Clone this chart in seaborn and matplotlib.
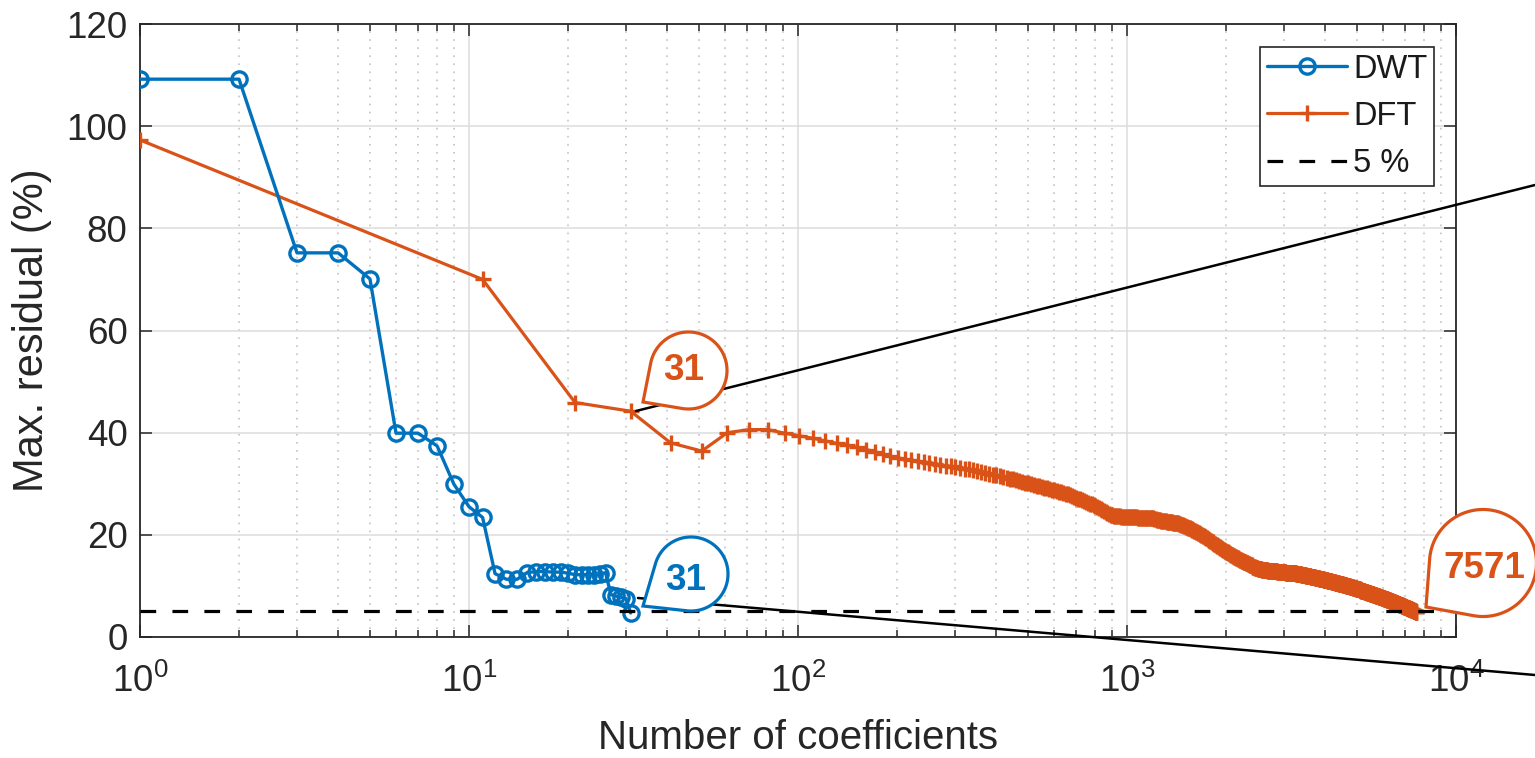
import numpy as np
import matplotlib
matplotlib.use("Agg")
import matplotlib.pyplot as plt
import seaborn as sns
from matplotlib.path import Path
from matplotlib.patches import PathPatch
from matplotlib.lines import Line2D
from matplotlib.ticker import LogLocator, NullFormatter, FixedLocator

# ---------------- data ----------------
dwt_n = list(range(1, 32))
dwt_residual = [109.2, 109.2, 75.2, 75.2, 70.1, 39.9, 39.9, 37.4, 29.9, 25.5,
                23.4, 12.4, 11.3, 11.3, 12.6, 12.8, 12.8, 12.7, 12.7, 12.5,
                12.2, 12.2, 12.2, 12.2, 12.3, 12.6, 8.3, 8.0, 7.8, 7.5, 4.7]

dft_n = np.arange(1, 7572, 10)   # 1, 11, 21, ..., 7571
dft_residual = [
    97.3, 70.0, 45.9, 44.2, 38.0, 36.4, 40.0, 40.6, 40.6, 39.9,
    39.4, 38.9, 38.4, 37.9, 37.6, 37.1, 36.7, 36.3, 35.8, 35.4,
    35.1, 34.8, 34.6, 34.4, 34.2, 34.0, 33.9, 33.7, 33.5, 33.4,
    33.3, 33.1, 32.9, 32.8, 32.6, 32.4, 32.3, 32.1, 32.0, 31.8,
    31.7, 31.5, 31.3, 31.2, 31.0, 30.9, 30.7, 30.5, 30.4, 30.2,
    30.1, 29.9, 29.8, 29.6, 29.5, 29.4, 29.2, 29.1, 28.9, 28.8,
    28.7, 28.5, 28.4, 28.3, 28.1, 28.0, 27.9, 27.7, 27.6, 27.4,
    27.3, 27.1, 27.0, 26.8, 26.6, 26.5, 26.3, 26.1, 26.0, 25.8,
    25.6, 25.4, 25.2, 25.0, 24.8, 24.6, 24.4, 24.2, 24.1, 23.9,
    23.8, 23.7, 23.7, 23.6, 23.6, 23.6, 23.5, 23.5, 23.5, 23.5,
    23.5, 23.5, 23.4, 23.4, 23.4, 23.4, 23.4, 23.4, 23.3, 23.3,
    23.3, 23.3, 23.3, 23.3, 23.3, 23.2, 23.2, 23.2, 23.2, 23.2,
    23.2, 23.1, 23.1, 23.0, 23.0, 22.9, 22.9, 22.8, 22.8, 22.7,
    22.7, 22.7, 22.6, 22.6, 22.6, 22.5, 22.5, 22.5, 22.4, 22.4,
    22.4, 22.4, 22.3, 22.3, 22.2, 22.1, 22.0, 22.0, 21.9, 21.8,
    21.7, 21.6, 21.5, 21.4, 21.4, 21.3, 21.2, 21.1, 21.0, 20.9,
    20.8, 20.7, 20.6, 20.5, 20.4, 20.3, 20.2, 20.1, 20.0, 19.9,
    19.8, 19.7, 19.6, 19.5, 19.4, 19.3, 19.1, 19.0, 18.9, 18.8,
    18.7, 18.6, 18.5, 18.4, 18.3, 18.2, 18.1, 18.0, 17.9, 17.8,
    17.7, 17.6, 17.5, 17.4, 17.3, 17.2, 17.1, 17.0, 16.9, 16.8,
    16.7, 16.6, 16.6, 16.5, 16.4, 16.3, 16.2, 16.1, 16.0, 16.0,
    15.9, 15.8, 15.7, 15.7, 15.6, 15.5, 15.4, 15.4, 15.3, 15.2,
    15.1, 15.0, 15.0, 14.9, 14.9, 14.8, 14.7, 14.7, 14.6, 14.6,
    14.5, 14.4, 14.4, 14.3, 14.2, 14.2, 14.1, 14.1, 14.0, 14.0,
    13.9, 13.8, 13.8, 13.7, 13.7, 13.6, 13.6, 13.5, 13.5, 13.5,
    13.4, 13.4, 13.4, 13.3, 13.3, 13.3, 13.3, 13.2, 13.2, 13.2,
    13.2, 13.2, 13.1, 13.1, 13.1, 13.1, 13.1, 13.1, 13.0, 13.0,
    13.0, 13.0, 13.0, 13.0, 13.0, 12.9, 12.9, 12.9, 12.9, 12.9,
    12.9, 12.9, 12.9, 12.9, 12.9, 12.9, 12.8, 12.8, 12.8, 12.8,
    12.8, 12.8, 12.8, 12.8, 12.8, 12.7, 12.7, 12.7, 12.7, 12.7,
    12.7, 12.7, 12.7, 12.7, 12.6, 12.6, 12.6, 12.6, 12.6, 12.6,
    12.6, 12.6, 12.6, 12.6, 12.6, 12.5, 12.5, 12.5, 12.5, 12.5,
    12.5, 12.5, 12.5, 12.5, 12.5, 12.5, 12.5, 12.4, 12.4, 12.4,
    12.4, 12.4, 12.4, 12.3, 12.3, 12.3, 12.3, 12.3, 12.3, 12.2,
    12.2, 12.2, 12.2, 12.2, 12.2, 12.1, 12.1, 12.1, 12.1, 12.1,
    12.0, 12.0, 12.0, 12.0, 12.0, 12.0, 11.9, 11.9, 11.9, 11.9,
    11.9, 11.9, 11.8, 11.8, 11.8, 11.8, 11.8, 11.7, 11.7, 11.7,
    11.7, 11.7, 11.7, 11.6, 11.6, 11.6, 11.6, 11.6, 11.6, 11.5,
    11.5, 11.5, 11.5, 11.5, 11.4, 11.4, 11.4, 11.4, 11.4, 11.4,
    11.3, 11.3, 11.3, 11.3, 11.3, 11.3, 11.2, 11.2, 11.2, 11.2,
    11.2, 11.1, 11.1, 11.1, 11.1, 11.1, 11.1, 11.0, 11.0, 11.0,
    11.0, 11.0, 11.0, 10.9, 10.9, 10.9, 10.9, 10.9, 10.9, 10.8,
    10.8, 10.8, 10.8, 10.8, 10.7, 10.7, 10.7, 10.7, 10.7, 10.7,
    10.6, 10.6, 10.6, 10.6, 10.6, 10.6, 10.5, 10.5, 10.5, 10.5,
    10.5, 10.4, 10.4, 10.4, 10.4, 10.4, 10.4, 10.3, 10.3, 10.3,
    10.3, 10.3, 10.3, 10.2, 10.2, 10.2, 10.2, 10.2, 10.2, 10.1,
    10.1, 10.1, 10.1, 10.1, 10.0, 10.0, 10.0, 10.0, 10.0, 10.0,
    9.9, 9.9, 9.9, 9.9, 9.9, 9.9, 9.8, 9.8, 9.8, 9.8,
    9.8, 9.7, 9.7, 9.7, 9.7, 9.7, 9.7, 9.6, 9.6, 9.6,
    9.6, 9.6, 9.6, 9.5, 9.5, 9.5, 9.5, 9.5, 9.4, 9.4,
    9.4, 9.4, 9.4, 9.4, 9.3, 9.3, 9.3, 9.3, 9.3, 9.3,
    9.2, 9.2, 9.2, 9.2, 9.2, 9.2, 9.1, 9.1, 9.1, 9.1,
    9.1, 9.0, 9.0, 9.0, 9.0, 9.0, 9.0, 8.9, 8.9, 8.9,
    8.9, 8.9, 8.9, 8.8, 8.8, 8.8, 8.8, 8.8, 8.7, 8.7,
    8.7, 8.7, 8.7, 8.7, 8.6, 8.6, 8.6, 8.6, 8.6, 8.5,
    8.5, 8.5, 8.5, 8.5, 8.5, 8.4, 8.4, 8.4, 8.4, 8.4,
    8.4, 8.3, 8.3, 8.3, 8.3, 8.3, 8.3, 8.2, 8.2, 8.2,
    8.2, 8.2, 8.1, 8.1, 8.1, 8.1, 8.1, 8.1, 8.0, 8.0,
    8.0, 8.0, 8.0, 8.0, 7.9, 7.9, 7.9, 7.9, 7.9, 7.8,
    7.8, 7.8, 7.8, 7.8, 7.8, 7.7, 7.7, 7.7, 7.7, 7.7,
    7.6, 7.6, 7.6, 7.6, 7.6, 7.6, 7.5, 7.5, 7.5, 7.5,
    7.5, 7.5, 7.4, 7.4, 7.4, 7.4, 7.4, 7.4, 7.3, 7.3,
    7.3, 7.3, 7.3, 7.2, 7.2, 7.2, 7.2, 7.2, 7.2, 7.1,
    7.1, 7.1, 7.1, 7.1, 7.1, 7.0, 7.0, 7.0, 7.0, 7.0,
    6.9, 6.9, 6.9, 6.9, 6.9, 6.9, 6.8, 6.8, 6.8, 6.8,
    6.8, 6.8, 6.7, 6.7, 6.7, 6.7, 6.7, 6.6, 6.6, 6.6,
    6.6, 6.6, 6.6, 6.5, 6.5, 6.5, 6.5, 6.5, 6.5, 6.4,
    6.4, 6.4, 6.4, 6.4, 6.3, 6.3, 6.3, 6.3, 6.3, 6.3,
    6.2, 6.2, 6.2, 6.2, 6.2, 6.2, 6.1, 6.1, 6.1, 6.1,
    6.1, 6.0, 6.0, 6.0, 6.0, 6.0, 6.0, 5.9, 5.9, 5.9,
    5.9, 5.9, 5.9, 5.8, 5.8, 5.8, 5.8, 5.8, 5.7, 5.7,
    5.7, 5.7, 5.7, 5.7, 5.6, 5.6, 5.6, 5.6, 5.6, 5.6,
    5.5, 5.5, 5.5, 5.5, 5.5, 5.5, 5.4, 5.4, 5.4, 5.4,
    5.4, 5.4, 5.3, 5.3, 5.3, 5.3, 5.3, 5.2, 5.2, 5.2,
    5.2, 5.2, 5.2, 5.1, 5.1, 5.1, 5.1, 5.1, 5.0, 5.0,
    5.0, 5.0, 5.0, 5.0, 4.9, 4.9, 4.9, 4.9,
]
threshold = 5
y_ticks = [0, 20, 40, 60, 80, 100, 120]
callouts = [("31", "#D95319"), ("31", "#0072BD"), ("7571", "#D95319")]

# ---------------- style ----------------
sns.set_theme(style="ticks")
plt.rcParams["font.family"] = ["Liberation Sans", "DejaVu Sans"]
plt.rcParams["mathtext.fontset"] = "custom"
plt.rcParams["mathtext.rm"] = "Liberation Sans"
plt.rcParams["mathtext.it"] = "Liberation Sans"
plt.rcParams["mathtext.default"] = "regular"
plt.rcParams["lines.scale_dashes"] = False

W, H = 1535, 758
fig = plt.figure(figsize=(W / 100, H / 100), dpi=100)
fig.patch.set_facecolor("white")
ax = fig.add_axes([140 / W, 1 - 637 / H, 1316 / W, 613 / H])

BLUE = "#0072BD"
ORANGE = "#D95319"
AXC = "#262626"

sns.lineplot(x=dwt_n, y=dwt_residual, ax=ax, color=BLUE, lw=2.4, marker="o",
             markersize=11, markerfacecolor="none", markeredgecolor=BLUE,
             markeredgewidth=2.4, label="DWT", estimator=None, sort=False, zorder=4)
sns.lineplot(x=dft_n, y=dft_residual, ax=ax, color=ORANGE, lw=2.3, marker="+",
             markersize=11, markeredgecolor=ORANGE, markeredgewidth=2.4,
             label="DFT", estimator=None, sort=False, zorder=3)
ax.axhline(threshold, color="black", lw=2.3, ls=(0, (11.3, 11.7)), label="5 %", zorder=5)

ax.set_xscale("log")
ax.set_xlim(1, 1e4)
ax.set_ylim(0, 120)
ax.yaxis.set_major_locator(FixedLocator(y_ticks))
ax.xaxis.set_major_locator(LogLocator(base=10, numticks=10))
ax.xaxis.set_minor_locator(LogLocator(base=10, subs=np.arange(2, 10), numticks=20))
ax.xaxis.set_minor_formatter(NullFormatter())

ax.grid(which="major", axis="both", color="#dcdcdc", lw=1.1, ls="-")
ax.grid(which="minor", axis="x", color="#bdbdbd", lw=1.1, ls=(0, (1.2, 4.6)))
ax.set_axisbelow(True)

for s in ax.spines.values():
    s.set_color(AXC)
    s.set_linewidth(1.3)
    s.set_visible(True)
ax.tick_params(which="both", direction="in", top=True, right=True, colors=AXC,
               width=1.1, labelsize=26.5, labelcolor=AXC)
ax.tick_params(which="major", length=8.6)
ax.tick_params(which="minor", length=5)
ax.tick_params(axis="x", which="major", pad=19)
ax.tick_params(axis="y", which="major", pad=9)

ax.set_xlabel("Number of coefficients", fontsize=29, color=AXC, labelpad=14)
ax.set_ylabel("Max. residual (%)", fontsize=30, color=AXC, labelpad=10)

handles, labels = ax.get_legend_handles_labels()
leg = ax.legend(handles, labels, loc="upper right", bbox_to_anchor=(0.9833, 0.9625),
                borderaxespad=0, fontsize=23.5, frameon=True, fancybox=False,
                handlelength=2.45, handletextpad=0.2, labelspacing=0.5,
                borderpad=0.2)
leg.get_frame().set_edgecolor(AXC)
leg.get_frame().set_linewidth(1.2)
leg.get_frame().set_facecolor("white")
leg.get_frame().set_alpha(1)
for t in leg.get_texts():
    t.set_color("#1a1a1a")


# ---------------- callouts ----------------
def px(x, y):
    return (x / W, 1 - y / H)


def bubble(cx, cy, r, tx, ty, tcx, tcy, text, color):
    C = np.array([cx, H - cy])
    T = np.array([tx, H - ty])
    v = T - C
    d = np.hypot(*v)
    th = np.arctan2(v[1], v[0])
    a = np.arccos(min(r / d, 1.0))
    angs = np.linspace(th + a, th - a + 2 * np.pi, 240)
    pts = [T] + [C + r * np.array([np.cos(t), np.sin(t)]) for t in angs] + [T]
    pts = np.array(pts) / np.array([W, H])
    patch = PathPatch(Path(pts, closed=True), transform=fig.transFigure,
                      facecolor="white", edgecolor=color, lw=2.3, zorder=10,
                      joinstyle="miter")
    fig.add_artist(patch)
    fig.text(*px(tcx, tcy), text, ha="center", va="center", fontsize=26.5,
             fontweight="bold", color=color, zorder=11)


# connector lines
fig.add_artist(Line2D([px(636, 411)[0], px(1535, 185)[0]],
                      [px(636, 411)[1], px(1535, 185)[1]],
                      transform=fig.transFigure, color="black", lw=1.8, zorder=6))
fig.add_artist(Line2D([px(638, 598)[0], px(1535, 675)[0]],
                      [px(638, 598)[1], px(1535, 675)[1]],
                      transform=fig.transFigure, color="black", lw=1.8, zorder=6))

bubble(688.5, 370.5, 38.5, 643, 402, 684, 370, callouts[0][0], callouts[0][1])
bubble(691, 574, 37, 643, 606, 686, 580, callouts[1][0], callouts[1][1])
bubble(1483, 563, 53.5, 1426, 607, 1484, 568, callouts[2][0], callouts[2][1])

fig.savefig("out.png", dpi=100, facecolor="white")
